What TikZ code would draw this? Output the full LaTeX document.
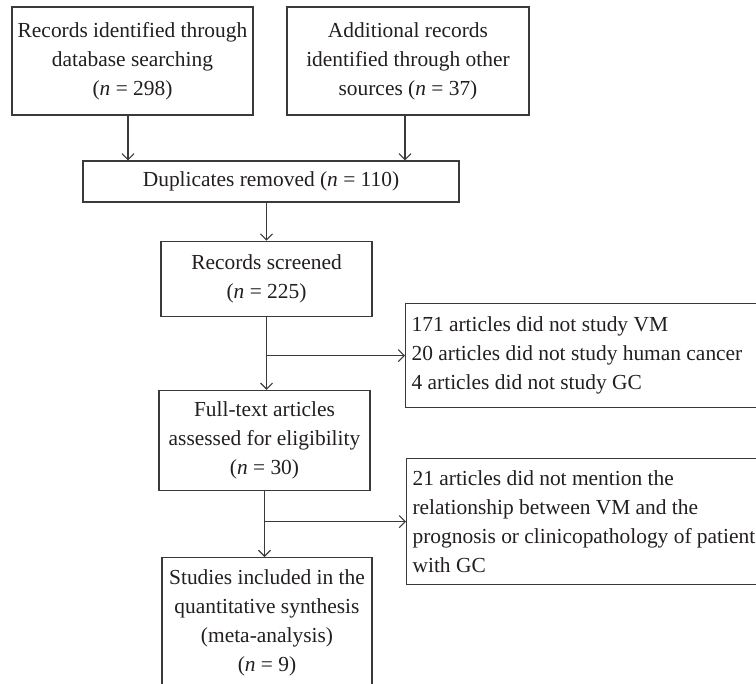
\documentclass[tikz,border=0pt]{standalone}
\usepackage{fontspec}
\setmainfont{Liberation Serif}
\usepackage{xcolor}
\usetikzlibrary{arrows.meta,positioning}
\definecolor{ink}{HTML}{231F20}
\definecolor{linecol}{HTML}{3A3A3A}
\tikzset{
  every node/.style={font=\fontsize{21.5}{29}\selectfont, text=ink},
  box/.style={draw=linecol, line width=1.2bp, fill=white, align=center, inner sep=0pt},
  notebox/.style={box, align=flush left, text width=370bp, inner xsep=6bp, anchor=north west},
  arrow/.style={-{Straight Barb[length=6bp,width=12bp]}, line width=1.1bp, draw=linecol},
}
\begin{document}
\begin{tikzpicture}[x=1bp,y=-1bp,node distance=38bp]
\clip (0,0) rectangle (756,684);
\node[box, minimum width=241bp, minimum height=108bp] (rec) at (132.5,61) {Records identified through\\database searching\\(\textit{n} = 298)};
\node[box, minimum width=242bp, minimum height=108bp] (add) at (408,61) {Additional records\\identified through other\\sources (\textit{n} = 37)};
\node[box, minimum width=376bp, minimum height=41bp] (dup) at (271,181.5) {Duplicates removed (\textit{n} = 110)};
\node[box, minimum width=211bp, minimum height=75bp, below=38bp of dup, xshift=-4.5bp] (scr) {Records screened\\(\textit{n} = 225)};
\node[box, minimum width=211bp, minimum height=100bp, below=73bp of scr, xshift=-2bp] (full) {Full-text articles\\assessed for eligibility\\(\textit{n} = 30)};
\node[box, minimum width=210bp, inner ysep=12bp, text depth=60bp, below=66bp of full, xshift=2.5bp] (incl) {Studies included in the\\quantitative synthesis\\(meta-analysis)\\(\textit{n} = 9)};
% exclusions
\node[notebox, minimum height=104bp] (exc1) at (405,303) {171 articles did not study VM\\20 articles did not study human cancer\\4 articles did not study GC};
\node[notebox, minimum height=126bp] (exc2) at (406,458) {21 articles did not mention the\\relationship between VM and the\\prognosis or clinicopathology of patients\\with GC};
\draw[arrow] ([xshift=-4.5bp]rec.south) -- ([xshift=-4.5bp]rec.south |- dup.north);
\draw[arrow] ([xshift=-3bp]add.south) -- ([xshift=-3bp]add.south |- dup.north);
\draw[arrow] (scr.north |- dup.south) -- (scr.north);
\draw[arrow] (scr.south) -- (scr.south |- full.north);
\draw[arrow] (full.south) -- (full.south |- incl.north);
\draw[arrow] (scr.south |- exc1.west) -- (exc1.west);
\draw[arrow] (full.south |- exc2.west) -- (exc2.west);
\end{tikzpicture}
\end{document}
